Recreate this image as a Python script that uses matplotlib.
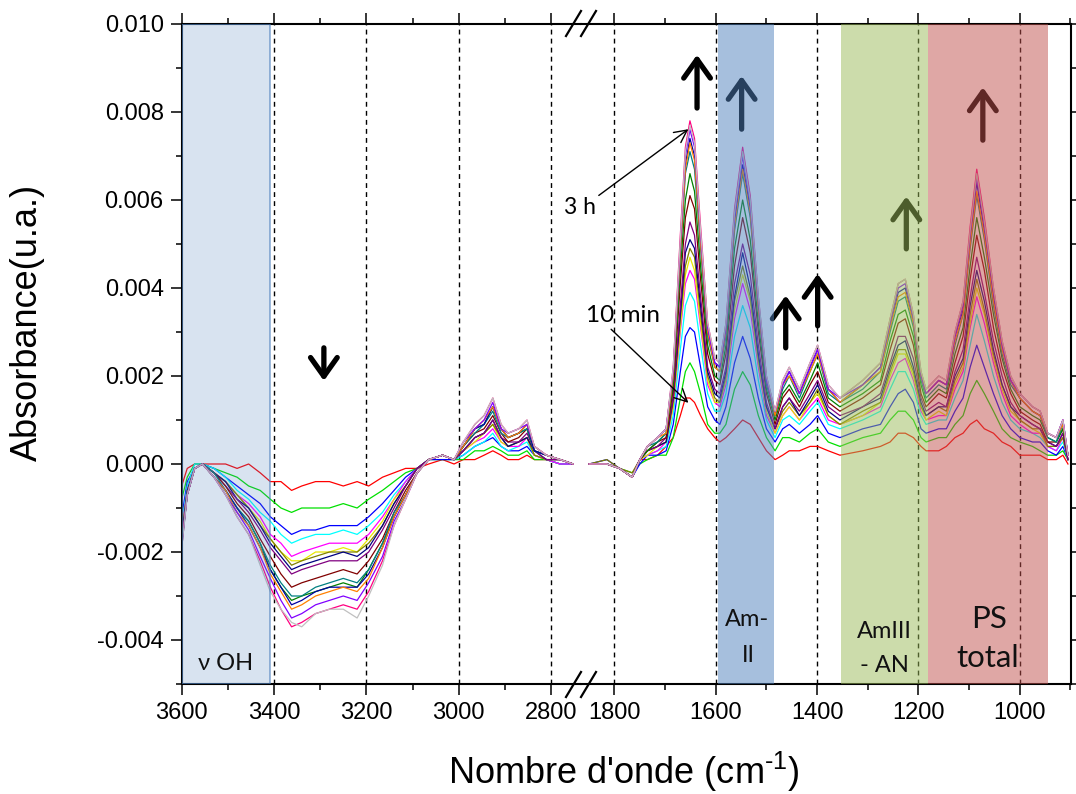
import numpy as np
import matplotlib
matplotlib.use('Agg')
import matplotlib.pyplot as plt
from matplotlib.lines import Line2D
from matplotlib.ticker import MultipleLocator, FixedLocator, FormatStrFormatter

plt.rcParams['font.family'] = ['Liberation Sans', 'DejaVu Sans']
plt.rcParams['mathtext.fontset'] = 'custom'
plt.rcParams['mathtext.rm'] = 'Liberation Sans'
plt.rcParams['mathtext.it'] = 'Liberation Sans:italic'
plt.rcParams['mathtext.bf'] = 'Liberation Sans:bold'

# ---------------- data (absorbance in units of 1e-4) ----------------
UNIT = 1e-4

# high-wavenumber segment (left panel)
WN_LO = [3600, 3588, 3572, 3555, 3530, 3505, 3480, 3455, 3430, 3408, 3385, 3362, 3340, 3310, 3280,
         3250, 3220, 3195, 3165, 3140, 3115, 3090, 3065, 3035, 3010, 2990, 2965, 2945, 2926, 2908,
         2893, 2870, 2852, 2836, 2810, 2780, 2752]
lo_red = [-5,-1,0,0,0,0,-1,0,-2,-4,-4,-6,-5,-4,-4,-5,-4,-5,-3,-2,-1,-1,0,1,0,1,1,2,3,2,1,1,2,1,1,0,0]
lo_green = [-8,-3,0,0,-1,-2,-3,-5,-6,-8,-10,-11,-10,-10,-10,-9,-10,-8,-6,-4,-2,-1,1,1,1,1,3,3,4,3,2,2,3,1,1,0,0]
lo_blue = [-12,-4,-1,0,-1,-3,-5,-7,-9,-12,-14,-16,-15,-15,-14,-14,-14,-12,-9,-6,-3,-1,1,1,1,2,4,5,6,4,3,3,4,2,1,0,0]
lo_cyan = [-14,-5,0,0,-1,-3,-6,-8,-11,-13,-16,-18,-17,-16,-16,-15,-16,-14,-11,-7,-4,-1,1,2,1,2,4,5,7,4,3,4,5,2,1,0,0]
lo_magenta = [-15,-6,-1,0,-2,-4,-7,-9,-12,-16,-18,-21,-20,-19,-18,-18,-18,-16,-12,-8,-4,-1,1,2,1,3,5,6,8,5,4,4,6,2,1,0,0]
lo_yellow = [-16,-6,-1,0,-2,-4,-7,-10,-13,-17,-20,-22,-22,-20,-20,-19,-20,-17,-13,-8,-5,-1,1,2,1,3,5,7,9,5,4,5,6,2,1,1,0]
lo_dkyellow = [-16,-6,-1,0,-2,-4,-7,-10,-14,-17,-20,-23,-22,-21,-20,-20,-20,-18,-14,-9,-5,-1,1,2,1,3,6,7,9,6,4,5,6,2,1,1,0]
lo_navy = [-17,-6,-1,0,-2,-4,-8,-10,-14,-18,-21,-24,-23,-22,-21,-20,-21,-19,-14,-9,-5,-1,1,2,1,3,6,7,10,6,4,5,6,3,1,1,0]
lo_purple = [-17,-7,-1,0,-2,-5,-8,-11,-15,-19,-22,-25,-24,-23,-22,-22,-22,-20,-15,-10,-5,-1,1,2,1,3,6,7,10,6,5,5,7,3,1,1,0]
lo_wine = [-18,-7,-1,0,-2,-5,-9,-12,-17,-21,-25,-28,-27,-26,-25,-24,-25,-22,-17,-11,-6,-2,1,2,1,4,7,8,11,7,5,6,8,3,2,1,0]
lo_olive = [-18,-7,-1,0,-3,-6,-10,-13,-18,-24,-28,-31,-30,-29,-28,-27,-28,-24,-18,-12,-7,-2,1,2,1,4,8,9,13,8,6,7,8,3,2,1,0]
lo_dkcyan = [-18,-7,-1,0,-2,-6,-10,-13,-18,-23,-27,-30,-30,-28,-27,-26,-27,-24,-18,-11,-7,-2,1,2,1,4,7,9,12,7,6,7,8,3,2,1,0]
lo_royal = [-18,-7,-1,0,-3,-6,-10,-14,-19,-24,-28,-32,-31,-29,-28,-28,-28,-25,-19,-12,-7,-2,1,2,1,4,8,9,13,8,6,7,9,3,2,1,0]
lo_orange = [-19,-7,-1,0,-3,-6,-11,-14,-19,-25,-29,-33,-32,-30,-29,-28,-29,-26,-19,-12,-7,-2,1,2,1,4,8,10,13,8,6,7,9,4,2,1,0]
lo_violet = [-19,-7,-1,0,-3,-7,-11,-15,-21,-26,-31,-35,-34,-32,-31,-30,-31,-27,-21,-13,-8,-2,1,2,1,5,8,10,14,8,7,8,9,4,2,1,0]
lo_pink = [-18,-7,-1,0,-3,-7,-12,-16,-22,-28,-33,-37,-36,-34,-33,-32,-33,-29,-22,-14,-8,-2,1,2,1,5,9,11,15,9,7,8,10,4,2,1,0]
lo_gray = [-19,-7,-1,0,-3,-7,-12,-16,-23,-29,-33,-36,-37,-34,-33,-33,-35,-30,-23,-14,-8,-2,1,2,1,5,9,11,15,9,7,8,10,4,2,1,0]

# fingerprint segment (right panel)
WN_HI = [1850, 1815, 1790, 1765, 1750, 1735, 1715, 1698, 1684, 1670, 1660, 1651, 1642, 1630, 1616,
         1602, 1592, 1580, 1563, 1547, 1532, 1516, 1500, 1483, 1468, 1455, 1435, 1414, 1399, 1378,
         1355, 1310, 1275, 1256, 1240, 1226, 1210, 1195, 1185, 1160, 1145, 1128, 1112, 1098, 1085,
         1070, 1052, 1035, 1018, 1000, 975, 960, 945, 928, 915, 905]
hi_red = [0,0,-1,-3,1,1,2,4,6,11,15,15,14,11,8,6,5,6,8,10,9,6,3,1,2,3,3,4,4,3,2,3,4,5,7,7,6,4,3,3,4,6,7,9,10,8,7,5,4,2,2,2,1,1,2,0]
hi_green = [0,0,-1,-2,0,1,2,2,6,15,21,23,21,16,9,7,7,9,17,21,18,11,6,3,6,6,5,7,8,5,4,6,7,10,12,12,10,6,5,6,6,9,11,16,19,16,12,8,6,5,4,3,2,2,3,1]
hi_blue = [0,1,-1,-3,0,2,2,3,9,21,29,31,30,22,13,10,9,13,23,29,24,15,8,5,8,9,7,9,11,7,6,8,9,13,16,17,14,8,7,8,8,12,15,22,27,22,16,11,8,6,5,5,3,2,4,1]
hi_cyan = [0,0,-1,-3,1,2,3,4,11,26,36,39,37,27,16,12,12,16,29,36,31,19,10,6,10,11,9,12,14,9,8,10,12,17,21,21,17,11,9,10,10,15,19,27,34,28,20,14,10,8,7,6,4,3,5,1]
hi_magenta = [0,0,-1,-3,1,2,3,5,13,30,41,44,42,31,18,14,13,18,33,41,35,22,11,7,11,13,10,13,15,10,9,11,13,19,23,24,19,12,10,11,11,17,21,31,38,32,23,16,11,9,7,7,4,3,6,1]
hi_yellow = [0,0,-1,-3,1,2,4,5,13,31,43,47,44,32,19,14,14,19,35,43,37,23,12,7,11,13,10,14,16,11,9,11,14,20,25,25,20,13,10,12,11,18,22,32,40,34,24,17,12,10,8,7,4,4,6,1]
hi_dkyellow = [0,1,-1,-2,1,3,4,5,14,33,45,49,47,34,20,15,14,20,37,45,38,24,13,8,12,14,11,14,17,11,9,12,14,21,26,26,21,13,11,13,12,19,23,34,42,35,25,18,13,10,8,8,4,4,6,1]
hi_navy = [0,0,-1,-3,1,3,4,5,15,34,48,51,49,36,21,16,15,21,38,48,40,25,13,8,13,15,11,15,18,12,10,13,15,22,27,28,22,14,11,13,13,20,24,36,44,37,26,18,13,11,9,8,5,4,7,1]
hi_purple = [0,0,-1,-3,1,3,4,6,15,36,50,55,52,38,22,17,16,22,41,50,43,27,14,8,13,15,12,16,19,13,11,13,16,23,29,29,24,15,12,14,13,21,26,38,47,39,28,20,14,11,9,8,5,4,7,1]
hi_wine = [0,0,-1,-3,1,3,5,6,17,41,56,61,58,42,25,19,18,25,45,56,48,30,16,9,15,17,13,18,21,14,12,15,18,26,32,33,27,16,13,16,15,23,29,42,52,44,31,22,16,12,10,9,5,5,8,2]
hi_olive = [0,0,-1,-3,1,3,5,7,18,44,60,66,62,45,27,20,19,27,49,60,51,32,17,10,16,18,14,19,23,15,13,16,19,28,34,35,29,18,14,17,16,25,31,45,56,47,34,24,17,13,11,10,6,5,8,2]
hi_dkcyan = [0,0,-1,-3,1,4,5,7,20,47,66,71,67,49,29,22,21,29,53,66,56,35,18,11,17,20,15,21,25,16,14,17,21,30,37,38,31,19,15,18,17,27,34,49,61,51,36,25,18,15,12,11,6,5,9,2]
hi_royal = [0,0,-1,-3,1,4,6,8,21,49,68,74,70,51,30,23,22,30,55,68,58,36,19,11,18,21,16,22,26,17,14,18,22,31,39,40,32,20,16,19,18,29,35,51,64,53,38,27,19,15,12,11,7,6,10,2]
hi_orange = [0,0,-1,-3,1,4,6,7,20,48,67,73,69,50,30,22,21,30,54,67,57,35,19,11,18,20,16,21,25,17,14,18,21,31,38,39,32,20,16,19,18,28,34,50,62,52,37,26,19,15,12,11,7,6,9,2]
hi_violet = [0,0,-1,-3,1,4,6,8,21,50,70,76,72,52,31,23,22,31,56,70,59,37,19,12,18,21,16,22,26,17,15,18,22,32,40,41,33,20,16,19,18,29,36,52,65,54,39,27,19,16,13,12,7,6,10,2]
hi_pink = [0,0,-1,-3,1,4,6,8,22,52,72,78,74,54,32,24,23,32,58,72,61,38,20,12,19,22,17,23,27,18,15,19,23,33,41,42,34,21,17,20,19,30,37,54,67,56,40,28,20,16,13,12,7,6,10,2]
hi_gray = [0,0,-1,-3,1,4,6,8,22,51,71,77,73,53,32,24,23,32,57,71,60,38,20,12,19,22,17,23,27,18,15,19,23,33,41,42,34,21,17,20,19,30,37,53,66,55,40,28,20,16,13,12,7,6,10,2]

SERIES_LO = [lo_red, lo_green, lo_blue, lo_cyan, lo_magenta, lo_yellow, lo_dkyellow, lo_navy,
             lo_purple, lo_wine, lo_olive, lo_dkcyan, lo_royal, lo_orange, lo_violet, lo_pink, lo_gray]
SERIES_HI = [hi_red, hi_green, hi_blue, hi_cyan, hi_magenta, hi_yellow, hi_dkyellow, hi_navy,
             hi_purple, hi_wine, hi_olive, hi_dkcyan, hi_royal, hi_orange, hi_violet, hi_pink, hi_gray]
COLORS = ['#FF0000', '#00E000', '#0000FF', '#00FFFF', '#FF00FF', '#E8E800', '#808000', '#000080',
          '#800080', '#800000', '#008000', '#008080', '#0000A0', '#FF8000', '#8000FF', '#FF0080', '#C0C0C0']

TICKS_LO = [3600, 3400, 3200, 3000, 2800]
MINOR_LO = [3500, 3300, 3100, 2900]
TICKS_HI = [1800, 1600, 1400, 1200, 1000]
MINOR_HI = [1700, 1500, 1300, 1100, 900]

# ---------------- figure ----------------
W, H = 1076, 794
fig = plt.figure(figsize=(W / 100, H / 100), dpi=100)


def fx(px):
    return px / W


def fy(py):
    return 1 - py / H


L_PX, BRK_PX, R_PX, T_PX, B_PX = 181.7, 581, 1071, 24, 684
axL = fig.add_axes([fx(L_PX), fy(B_PX), (BRK_PX - L_PX) / W, (B_PX - T_PX) / H])
axR = fig.add_axes([fx(BRK_PX), fy(B_PX), (R_PX - BRK_PX) / W, (B_PX - T_PX) / H])

for arr, c in zip(SERIES_LO, COLORS):
    axL.plot(WN_LO, np.array(arr) * UNIT, color=c, lw=0.9, zorder=2)
for arr, c in zip(SERIES_HI, COLORS):
    axR.plot(WN_HI, np.array(arr) * UNIT, color=c, lw=0.9, zorder=2)

axL.set_xlim(3600, 2735)
axR.set_xlim(1866, 899)
for ax in (axL, axR):
    ax.set_ylim(-0.005, 0.010)
    ax.yaxis.set_major_locator(MultipleLocator(0.002))
    ax.yaxis.set_minor_locator(MultipleLocator(0.001))
    ax.xaxis.set_ticks_position('both')
    ax.tick_params(axis='both', which='both', direction='out', width=1.1, labelsize=17, pad=5)
    ax.tick_params(which='major', length=8)
    ax.tick_params(which='minor', length=4.5)
    for s in ax.spines.values():
        s.set_linewidth(1.5)

axL.xaxis.set_major_locator(FixedLocator(TICKS_LO))
axL.xaxis.set_minor_locator(FixedLocator(MINOR_LO))
axR.xaxis.set_major_locator(FixedLocator(TICKS_HI))
axR.xaxis.set_minor_locator(FixedLocator(MINOR_HI))
axL.yaxis.set_major_formatter(FormatStrFormatter('%.3f'))
axL.yaxis.set_ticks_position('left')
axR.yaxis.set_ticks_position('right')
axR.tick_params(axis='y', labelright=False, labelleft=False)
axL.spines['right'].set_visible(False)
axR.spines['left'].set_visible(False)

# dashed guides
for v in [3400, 3200, 3000, 2800]:
    axL.axvline(v, color='k', lw=1.0, dashes=(3.5, 3), zorder=1.5)
for v in TICKS_HI:
    axR.axvline(v, color='k', lw=1.0, dashes=(3.5, 3), zorder=1.5)

# thick arrows (under the translucent bands)
def big_arrow(ax, x, y0, y1):
    ax.annotate('', xy=(x, y1), xytext=(x, y0), zorder=4,
                arrowprops=dict(arrowstyle='->,head_length=0.45,head_width=0.32', lw=3.8,
                                color='k', shrinkA=0, shrinkB=0, mutation_scale=30))

big_arrow(axL, 3292, 0.00264, 0.00189)
big_arrow(axR, 1637, 0.00809, 0.00930)
big_arrow(axR, 1549, 0.00761, 0.00882)
big_arrow(axR, 1462, 0.00264, 0.00383)
big_arrow(axR, 1399, 0.00314, 0.00432)
big_arrow(axR, 1224, 0.00489, 0.00608)
big_arrow(axR, 1073, 0.00736, 0.00856)

# translucent bands
axL.axvspan(3600, 3408, facecolor=(0.31, 0.506, 0.741, 0.22),
            edgecolor=(0.31, 0.506, 0.741, 0.6), lw=1.3, zorder=5)
axR.axvspan(1595, 1485, facecolor='#4F81BD', alpha=0.5, lw=0, zorder=5)
axR.axvspan(1352, 1182, facecolor='#9BBB59', alpha=0.5, lw=0, zorder=5)
axR.axvspan(1182, 945, facecolor='#C0504D', alpha=0.5, lw=0, zorder=5)

# time annotations
LFONT = ['Lato', 'DejaVu Sans']
axR.annotate('3 h', xy=(1654, 0.00761), xycoords='data',
             xytext=(fx(580), fy(208)), textcoords='figure fraction',
             ha='center', va='center', fontsize=16.5, family=LFONT, zorder=6,
             arrowprops=dict(arrowstyle='->,head_length=0.6,head_width=0.3', lw=1.0, color='k',
                             shrinkA=0, shrinkB=0, relpos=(1.0, 1.0), mutation_scale=15))
axR.annotate('10 min', xy=(1654, 0.00139), xycoords='data',
             xytext=(fx(623), fy(316)), textcoords='figure fraction',
             ha='center', va='center', fontsize=17.5, family=LFONT, zorder=6,
             arrowprops=dict(arrowstyle='->,head_length=0.6,head_width=0.3', lw=1.0, color='k',
                             shrinkA=0, shrinkB=0, relpos=(0.3, 0.0), mutation_scale=15))

# band labels
def lab(x, y, s, fs):
    fig.text(fx(x), fy(y), s, ha='center', va='center', fontsize=fs, family=LFONT, color='#111111')

lab(226, 664, 'ν OH', 17)
lab(747, 620, 'Am-', 17)
lab(748, 655, 'II', 17)
lab(884, 632, 'AmIII', 17)
lab(884, 665, '- AN', 17)
lab(989, 619, 'PS', 22.5)
lab(988, 658, 'total', 22.5)

# axis titles
fig.text(fx(27), fy(322), 'Absorbance(u.a.)', rotation=90, fontsize=26, ha='center', va='center')
fig.text(fx(624), fy(772), "Nombre d'onde (cm$^{\\text{-}1}$)", fontsize=26, ha='center', va='center')

# axis break marks
for (x0, y0, x1, y1) in [(566, 36, 581, 11), (581, 36, 596, 11), (566, 697, 581, 672), (581, 697, 596, 672)]:
    fig.add_artist(Line2D([fx(x0), fx(x1)], [fy(y0), fy(y1)], color='k', lw=1.6,
                          transform=fig.transFigure))

fig.savefig('out.png', dpi=100)
